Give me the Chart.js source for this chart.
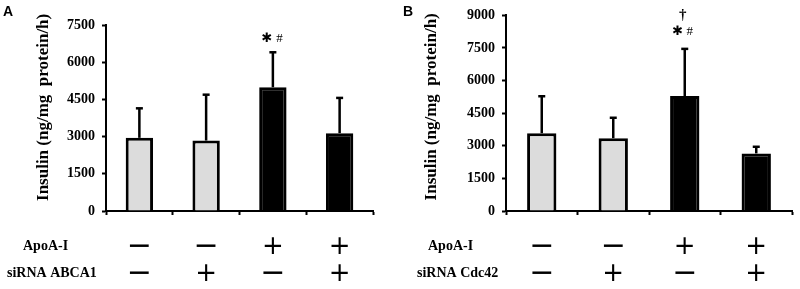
<!DOCTYPE html>
<html>
<head>
<meta charset="utf-8">
<script src="https://cdn.jsdelivr.net/npm/chart.js@4"></script>
<style>
  body { margin: 0; background: #fff; width: 800px; height: 289px; overflow: hidden; }
  .panel { position: absolute; top: 0; width: 400px; height: 289px; }
</style>
</head>
<body>
<div class="panel" style="left:0"><canvas id="chartA" width="400" height="289"></canvas></div>
<div class="panel" style="left:400px"><canvas id="chartB" width="400" height="289"></canvas></div>
<script>
// grupos (4 condiciones)
const groups = ["1", "2", "3", "4"];
const apoaRow = ["−", "−", "+", "+"];
const sirnaRow = ["−", "+", "−", "+"];
const barColors = ["#dcdcdc", "#dcdcdc", "#000000", "#000000"];

// Panel A: siRNA ABCA1
const insulinA = [2950, 2840, 4990, 3140];
const sdA = [1190, 1850, 1410, 1420];
const ticksA = [0, 1500, 3000, 4500, 6000, 7500];

// Panel B: siRNA Cdc42
const insulinB = [3580, 3350, 5290, 2650];
const sdB = [1700, 940, 2170, 305];
const ticksB = [0, 1500, 3000, 4500, 6000, 7500, 9000];

const yTitle = "Insulin (ng/mg  protein/h)";

// dibuja barras de error, marcas de significancia, filas +/- y letra del panel
const extrasPlugin = {
  id: "extras",
  afterDatasetsDraw(chart, args, opts) {
    const ctx = chart.ctx;
    const meta = chart.getDatasetMeta(0);
    const y = chart.scales.y;
    const vals = chart.data.datasets[0].data;
    ctx.save();
    ctx.strokeStyle = "#000";
    ctx.lineWidth = 2.5;
    meta.data.forEach((bar, i) => {
      const y0 = y.getPixelForValue(vals[i]);
      const y1 = y.getPixelForValue(vals[i] + opts.sd[i]);
      ctx.beginPath();
      ctx.moveTo(bar.x, y0);
      ctx.lineTo(bar.x, y1);
      ctx.stroke();
      ctx.beginPath();
      ctx.moveTo(bar.x - 3.5, y1);
      ctx.lineTo(bar.x + 3.5, y1);
      ctx.stroke();
    });

    // marcas sobre la barra 3
    const k = 2;
    const bx = meta.data[k].x;
    const top = y.getPixelForValue(vals[k] + opts.sd[k]);
    ctx.fillStyle = "#000";
    ctx.textAlign = "center";
    ctx.textBaseline = "middle";
    opts.marks.forEach((m) => {
      ctx.font = m.font;
      ctx.fillText(m.text, bx + m.dx, top + m.dy);
    });
    ctx.restore();
  },
  afterDraw(chart, args, opts) {
    const ctx = chart.ctx;
    const x = chart.scales.x;
    ctx.save();
    ctx.fillStyle = "#000";
    // letra del panel
    ctx.font = "bold 14px 'Liberation Sans', Arial, sans-serif";
    ctx.textAlign = "left";
    ctx.textBaseline = "alphabetic";
    ctx.fillText(opts.letter, 3, 16);
    // etiquetas de filas
    ctx.font = "bold 14px 'Liberation Serif', 'Times New Roman', serif";
    ctx.textBaseline = "middle";
    ctx.fillText("ApoA-I", opts.rowLabelX[0], 246);
    ctx.fillText(opts.rowName, opts.rowLabelX[1], 273);
    // signos
    ctx.textAlign = "center";
    [[apoaRow, 247], [sirnaRow, 274]].forEach(([row, ry]) => {
      row.forEach((s, i) => {
        ctx.font = (s === "+" ? "26px" : "30px") + " 'DejaVu Sans', sans-serif";
        ctx.fillText(s, x.getPixelForValue(i), ry);
      });
    });
    ctx.restore();
  }
};

function makeChart(id, values, sd, ticks, cfg) {
  const serif = "'Liberation Serif', 'Times New Roman', serif";
  return new Chart(document.getElementById(id), {
    type: "bar",
    data: {
      labels: groups,
      datasets: [{
        data: values,
        backgroundColor: barColors,
        borderColor: "#000",
        borderWidth: 3,
        barPercentage: 0.41,
        categoryPercentage: 1
      }]
    },
    options: {
      responsive: false,
      animation: false,
      layout: { padding: { left: 0, right: cfg.padRight, top: cfg.padTop, bottom: 0 } },
      scales: {
        x: {
          offset: true,
          grid: { offset: true, drawOnChartArea: false, drawTicks: true, tickLength: 4, tickWidth: 2, tickColor: "#000" },
          border: { color: "#000", width: 2 },
          ticks: { display: false },
          afterFit: (s) => { s.height = cfg.xHeight; }
        },
        y: {
          min: 0,
          max: ticks[ticks.length - 1],
          afterBuildTicks: (s) => { s.ticks = ticks.map((v) => ({ value: v })); },
          grid: { drawOnChartArea: false, drawTicks: true, tickLength: 4, tickWidth: 2, tickColor: "#000" },
          border: { color: "#000", width: 2 },
          ticks: {
            color: "#000",
            padding: 7,
            font: { family: serif, size: 14, weight: "bold" },
            callback: (v) => String(v) // sin separador de miles
          },
          title: {
            display: true,
            text: cfg.titleText,
            color: "#000",
            padding: { top: cfg.titlePad, bottom: 0 },
            font: { family: serif, size: 17, weight: "bold" }
          },
          afterFit: (s) => { s.width = 106; }
        }
      },
      plugins: {
        legend: { display: false },
        tooltip: { enabled: false },
        extras: {
          sd: sd,
          marks: cfg.marks,
          letter: cfg.letter,
          rowName: cfg.rowName,
          rowLabelX: cfg.rowLabelX
        }
      }
    },
    plugins: [extrasPlugin]
  });
}

const starFont = "13px 'DejaVu Sans', sans-serif";
const hashFont = "13px 'Liberation Serif', serif";

makeChart("chartA", insulinA, sdA, ticksA, {
  padRight: 27, padTop: 25, xHeight: 78, titlePad: 33,
  titleText: "     " + yTitle,
  letter: "A", rowName: "siRNA ABCA1", rowLabelX: [23, 7],
  marks: [
    { text: "✱", dx: -6, dy: -14, font: starFont },
    { text: "#", dx: 6.5, dy: -14, font: hashFont }
  ]
});

makeChart("chartB", insulinB, sdB, ticksB, {
  padRight: 8, padTop: 13, xHeight: 78, titlePad: 21,
  titleText: "   " + yTitle,
  letter: "B", rowName: "siRNA Cdc42", rowLabelX: [28, 17],
  marks: [
    { text: "✱", dx: -7, dy: -17.5, font: starFont },
    { text: "#", dx: 5, dy: -17.5, font: hashFont },
    { text: "†", dx: -2, dy: -34, font: "bold 15px 'Liberation Serif', serif" }
  ]
});
</script>
</body>
</html>
